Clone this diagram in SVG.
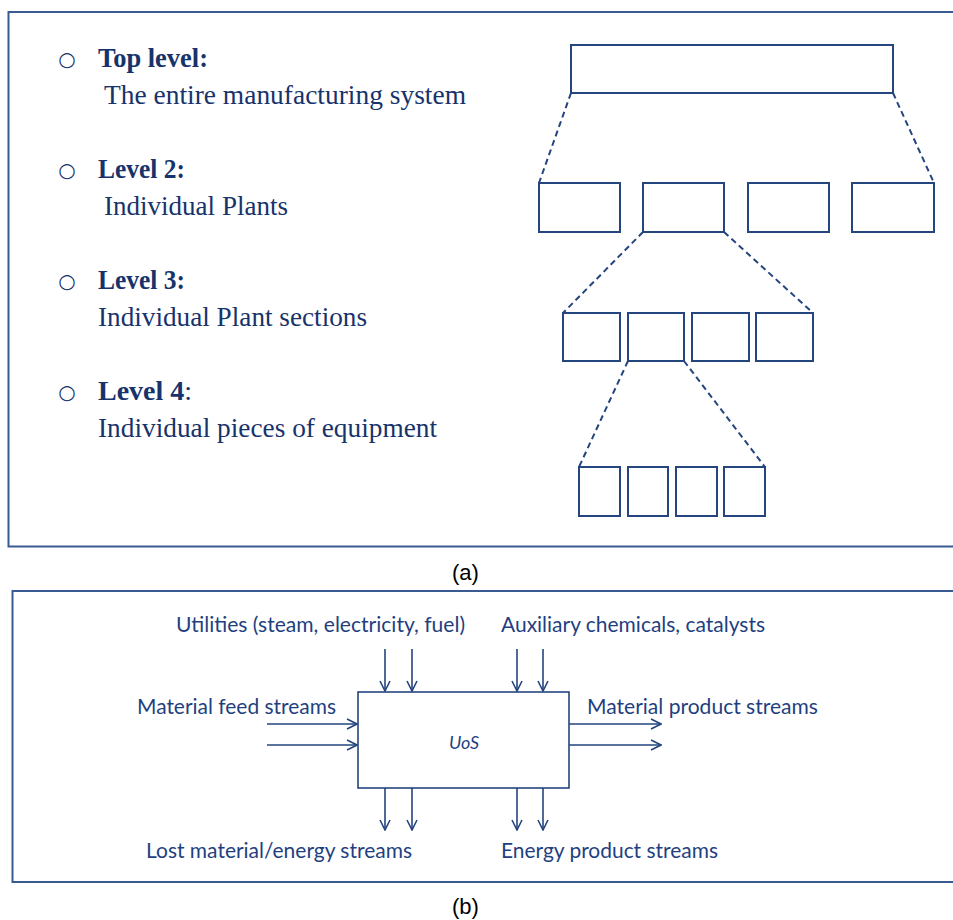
<svg xmlns="http://www.w3.org/2000/svg" width="953" height="920" viewBox="0 0 953 920">
<defs>
<style>
.frame{fill:none;stroke:#3A5A92;stroke-width:2}
.box{fill:#fff;stroke:#25457F;stroke-width:2}
.dash{fill:none;stroke:#25457F;stroke-width:2;stroke-dasharray:6,4}
.conn{fill:none;stroke:#25457F;stroke-width:1.6}
.ser{font-family:"Liberation Serif",serif;font-size:28px;fill:#17336B}
.serb{font-family:"Liberation Serif",serif;font-size:28px;font-weight:bold;fill:#17336B}
.bul{font-family:"DejaVu Sans",sans-serif;font-size:20px;fill:#17336B}
.san{font-family:Lato,"Liberation Sans",sans-serif;font-size:21px;fill:#1F3F7F}
.cap{font-family:"Liberation Sans",sans-serif;font-size:22px;fill:#000}
</style>
<marker id="arr" viewBox="0 0 12 12" refX="11" refY="6" markerWidth="12" markerHeight="12" markerUnits="userSpaceOnUse" orient="auto">
<path d="M1,1 L11,6 L1,11" fill="none" stroke="#25457F" stroke-width="1.6"/>
</marker>
</defs>
<rect width="953" height="920" fill="#fff"/>

<g id="panel-a">
<rect class="frame" x="8.5" y="12" width="960" height="534.5"/>
<g id="level-text">
<text class="bul" x="67" y="66" text-anchor="middle">○</text>
<text class="serb" x="98" y="67" textLength="110" lengthAdjust="spacingAndGlyphs">Top level:</text>
<text class="ser" x="104" y="104" textLength="362" lengthAdjust="spacingAndGlyphs">The entire manufacturing system</text>
<text class="bul" x="67" y="177" text-anchor="middle">○</text>
<text class="serb" x="98" y="178" textLength="87" lengthAdjust="spacingAndGlyphs">Level 2:</text>
<text class="ser" x="104" y="215" textLength="184" lengthAdjust="spacingAndGlyphs">Individual Plants</text>
<text class="bul" x="67" y="288" text-anchor="middle">○</text>
<text class="serb" x="98" y="289" textLength="87" lengthAdjust="spacingAndGlyphs">Level 3:</text>
<text class="ser" x="98" y="326" textLength="269" lengthAdjust="spacingAndGlyphs">Individual Plant sections</text>
<text class="bul" x="67" y="399" text-anchor="middle">○</text>
<text class="serb" x="98" y="400">Level 4<tspan class="ser" font-weight="normal">:</tspan></text>
<text class="ser" x="98" y="437" textLength="339" lengthAdjust="spacingAndGlyphs">Individual pieces of equipment</text>
</g>
<g id="connectors-a">
<line class="dash" x1="571" y1="93" x2="539" y2="183"/>
<line class="dash" x1="893" y1="93" x2="934" y2="183"/>
<line class="dash" x1="643" y1="232" x2="563" y2="313"/>
<line class="dash" x1="724" y1="232" x2="813" y2="313"/>
<line class="dash" x1="628" y1="361" x2="579" y2="467"/>
<line class="dash" x1="684" y1="361" x2="765" y2="467"/>
</g>
<g id="top"><rect class="box" x="571" y="45" width="322" height="48"/></g>
<g id="l2-1"><rect class="box" x="539" y="183" width="81" height="49"/></g>
<g id="l2-2"><rect class="box" x="643" y="183" width="81" height="49"/></g>
<g id="l2-3"><rect class="box" x="748" y="183" width="81" height="49"/></g>
<g id="l2-4"><rect class="box" x="852" y="183" width="82" height="49"/></g>
<g id="l3-1"><rect class="box" x="563" y="313" width="57" height="48"/></g>
<g id="l3-2"><rect class="box" x="628" y="313" width="56" height="48"/></g>
<g id="l3-3"><rect class="box" x="692" y="313" width="57" height="48"/></g>
<g id="l3-4"><rect class="box" x="756" y="313" width="57" height="48"/></g>
<g id="l4-1"><rect class="box" x="579" y="467" width="41" height="49"/></g>
<g id="l4-2"><rect class="box" x="628" y="467" width="40" height="49"/></g>
<g id="l4-3"><rect class="box" x="676" y="467" width="41" height="49"/></g>
<g id="l4-4"><rect class="box" x="724" y="467" width="41" height="49"/></g>
</g>
<text class="cap" x="465.5" y="580" text-anchor="middle">(a)</text>

<g id="panel-b">
<rect class="frame" x="12.5" y="591" width="960" height="291"/>
<g id="uos">
<rect x="358" y="692" width="211" height="96" fill="#fff" stroke="#25457F" stroke-width="1.6"/>
<text x="464" y="749" text-anchor="middle" font-family="Lato,'Liberation Sans',sans-serif" font-size="18" font-style="italic" fill="#1F3F7F">UoS</text>
</g>
<g id="connectors-b">
<line class="conn" x1="385" y1="649" x2="385" y2="691" marker-end="url(#arr)"/>
<line class="conn" x1="412" y1="649" x2="412" y2="691" marker-end="url(#arr)"/>
<line class="conn" x1="517" y1="649" x2="517" y2="691" marker-end="url(#arr)"/>
<line class="conn" x1="543" y1="649" x2="543" y2="691" marker-end="url(#arr)"/>
<line class="conn" x1="385" y1="788" x2="385" y2="830" marker-end="url(#arr)"/>
<line class="conn" x1="412" y1="788" x2="412" y2="830" marker-end="url(#arr)"/>
<line class="conn" x1="517" y1="788" x2="517" y2="830" marker-end="url(#arr)"/>
<line class="conn" x1="543" y1="788" x2="543" y2="830" marker-end="url(#arr)"/>
<line class="conn" x1="267" y1="724" x2="357" y2="724" marker-end="url(#arr)"/>
<line class="conn" x1="267" y1="745" x2="357" y2="745" marker-end="url(#arr)"/>
<line class="conn" x1="569" y1="724" x2="661" y2="724" marker-end="url(#arr)"/>
<line class="conn" x1="569" y1="745" x2="661" y2="745" marker-end="url(#arr)"/>
</g>
<g id="labels-b">
<text class="san" x="176" y="632" textLength="289" lengthAdjust="spacingAndGlyphs">Utilities (steam, electricity, fuel)</text>
<text class="san" x="501" y="632" textLength="264" lengthAdjust="spacingAndGlyphs">Auxiliary chemicals, catalysts</text>
<text class="san" x="137" y="714" textLength="199" lengthAdjust="spacingAndGlyphs">Material feed streams</text>
<text class="san" x="587" y="714" textLength="231" lengthAdjust="spacingAndGlyphs">Material product streams</text>
<text class="san" x="146" y="858" textLength="266" lengthAdjust="spacingAndGlyphs">Lost material/energy streams</text>
<text class="san" x="501" y="858" textLength="217" lengthAdjust="spacingAndGlyphs">Energy product streams</text>
</g>
</g>
<text class="cap" x="465.5" y="914" text-anchor="middle">(b)</text>
</svg>
